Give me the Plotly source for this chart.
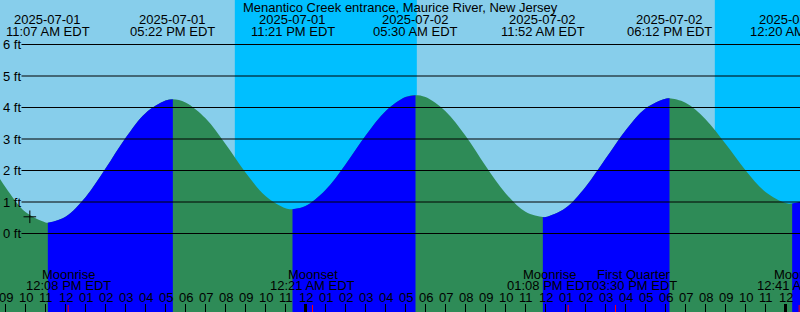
import plotly.graph_objects as go
import pandas as pd

# ---------------- data ----------------
title_text = "Menantico Creek entrance, Maurice River, New Jersey"

extreme_times = ["2025-07-01 11:07", "2025-07-01 17:22", "2025-07-01 23:21",
                 "2025-07-02 05:30", "2025-07-02 11:52", "2025-07-02 18:12",
                 "2025-07-03 00:20"]
extreme_heights = [0.34, 4.26, 0.77, 4.39, 0.52, 4.29, 0.95]
extreme_kinds = ["low", "high", "low", "high", "low", "high", "low"]

# hourly water level readings (ft), starting 2025-07-01 08:00
hourly_start = "2025-07-01 08:00"
hourly_heights = [2.50, 1.47, 0.68, 0.35, 0.53, 1.15, 2.06, 3.03, 3.82, 4.22,
                  4.16, 3.66, 2.84, 1.94, 1.19, 0.80,
                  0.87, 1.38, 2.19, 3.10, 3.88, 4.33, 4.33, 3.88, 3.10, 2.15,
                  1.28, 0.69, 0.52, 0.81, 1.48, 2.37, 3.27, 3.97, 4.28, 4.15,
                  3.63, 2.85, 2.01, 1.32,
                  0.97, 1.04]

night_starts = ["2025-07-01 20:28", "2025-07-02 20:28"]
night_ends = ["2025-07-02 05:34", "2025-07-03 05:35"]

moon_event_names = ["Moonrise", "Moonset", "Moonrise", "First Quarter", "Moonset"]
moon_event_times = ["2025-07-01 12:08", "2025-07-02 00:21", "2025-07-02 13:08",
                    "2025-07-02 15:30", "2025-07-03 00:41"]

height_ticks = [0, 1, 2, 3, 4, 5, 6]
mark_time = ["2025-07-01 10:13"]
mark_height = [0.53]

view_start = "2025-07-01 08:43:30"
view_hours = 40
y_range = [-2.4921, 7.4127]

# ---------------- colors / styling ----------------
DAY = "#87CEEB"
NIGHT = "#00BFFF"
RISE = "#0000FF"
FALL = "#2E8B57"
FONT = "Liberation Sans, Arial, sans-serif"
FS = 13
W, H = 800, 312
EVENT_LABEL_W = 85  # approx pixel width of an event label ("12:08 PM EDT")

t0 = pd.Timestamp(view_start)
t1 = t0 + pd.Timedelta(hours=view_hours)

def xpix(t):
    return (pd.Timestamp(t) - t0) / (t1 - t0) * W

hourly_times = pd.date_range(hourly_start, periods=len(hourly_heights), freq="h")
ext_t = pd.to_datetime(extreme_times)

pts = [(t, h) for t, h in zip(hourly_times, hourly_heights)]
pts += [(t, h) for t, h in zip(ext_t, extreme_heights)]
pts.sort(key=lambda p: p[0])
all_t = [p[0] for p in pts]
all_h = [p[1] for p in pts]

base = y_range[0] - 1

fig = go.Figure()

# full curve in "falling" color
fig.add_trace(go.Scatter(x=[all_t[0], all_t[-1]], y=[base, base], mode="lines",
                         line=dict(width=0), hoverinfo="skip", showlegend=False))
fig.add_trace(go.Scatter(x=all_t, y=all_h, mode="lines", fill="tonexty",
                         fillcolor=FALL, line=dict(width=0, shape="spline"),
                         hoverinfo="skip", showlegend=False))

# rising segments
for i, k in enumerate(extreme_kinds):
    if k != "low":
        continue
    ts = ext_t[i]
    te = ext_t[i + 1] if i + 1 < len(ext_t) else all_t[-1]
    seg = [(t, h) for t, h in pts if ts <= t <= te]
    sx = [p[0] for p in seg]
    sy = [p[1] for p in seg]
    fig.add_trace(go.Scatter(x=[sx[0], sx[-1]], y=[base, base], mode="lines",
                             line=dict(width=0), hoverinfo="skip", showlegend=False))
    fig.add_trace(go.Scatter(x=sx, y=sy, mode="lines", fill="tonexty",
                             fillcolor=RISE, line=dict(width=0, shape="spline"),
                             hoverinfo="skip", showlegend=False))

# mark
fig.add_trace(go.Scatter(x=pd.to_datetime(mark_time), y=mark_height, mode="markers",
                         marker=dict(symbol="cross-thin", size=9,
                                     line=dict(width=1, color="black")),
                         hoverinfo="skip", showlegend=False))

shapes = []
annotations = []

def ypaper(px):
    return 1 - px / H

txtfont = dict(family=FONT, size=FS, color="black")

# night bands
for s, e in zip(night_starts, night_ends):
    shapes.append(dict(type="rect", xref="x", yref="paper", x0=s, x1=e, y0=0, y1=1,
                       fillcolor=NIGHT, line=dict(width=0), layer="below"))

# height grid lines and labels
for v in height_ticks:
    shapes.append(dict(type="line", xref="paper", yref="y", x0=21.5 / W, x1=1,
                       y0=v, y1=v, line=dict(color="black", width=1)))
    annotations.append(dict(xref="paper", yref="y", x=0, y=v, xanchor="left",
                            yanchor="middle", xshift=1, text=f"{v} ft",
                            showarrow=False, font=txtfont))

# hour ticks & labels
hours = pd.date_range(t0.ceil("h"), t1, freq="h")
for t in hours:
    w = 3 if t.hour == 0 else 1
    shapes.append(dict(type="line", xref="x", yref="paper", x0=t, x1=t,
                       y0=0, y1=8 / H, line=dict(color="black", width=w)))
    annotations.append(dict(xref="x", yref="paper", x=t, y=ypaper(297.5),
                            xanchor="center", yanchor="middle", text=t.strftime("%I"),
                            showarrow=False, font=txtfont))

# moon events: labels pushed apart when they would overlap
ev_t = [pd.Timestamp(s) for s in moon_event_times]
ev_px = [xpix(t) for t in ev_t]
lab_px = list(ev_px)
for i in range(len(lab_px) - 1):
    gap = lab_px[i + 1] - lab_px[i]
    if gap < EVENT_LABEL_W:
        d = (EVENT_LABEL_W - gap) / 2
        lab_px[i] -= d
        lab_px[i + 1] += d

for name, t, p, lp in zip(moon_event_names, ev_t, ev_px, lab_px):
    shapes.append(dict(type="line", xref="x", yref="paper", x0=t, x1=t,
                       y0=0, y1=7 / H, line=dict(color="red", width=1)))
    annotations.append(dict(xref="x", yref="paper", x=t, y=ypaper(274),
                            xanchor="center", yanchor="middle", text=name,
                            xshift=lp - p, showarrow=False, font=txtfont))
    annotations.append(dict(xref="x", yref="paper", x=t, y=ypaper(285.5),
                            xanchor="center", yanchor="middle",
                            text=t.strftime("%I:%M %p EDT"),
                            xshift=lp - p, showarrow=False, font=txtfont))

# extreme labels
for t in ext_t:
    annotations.append(dict(xref="x", yref="paper", x=t, y=ypaper(19.5),
                            xanchor="center", yanchor="middle", text=t.strftime("%Y-%m-%d"),
                            showarrow=False, font=txtfont))
    annotations.append(dict(xref="x", yref="paper", x=t, y=ypaper(32),
                            xanchor="center", yanchor="middle",
                            text=t.strftime("%I:%M %p EDT"),
                            showarrow=False, font=txtfont))

# title
annotations.append(dict(xref="paper", yref="paper", x=0.5, y=ypaper(7.7),
                        xanchor="center", yanchor="middle", text=title_text,
                        showarrow=False, font=txtfont))

fig.update_layout(
    width=W, height=H,
    margin=dict(l=0, r=0, t=0, b=0, pad=0),
    paper_bgcolor=DAY, plot_bgcolor=DAY,
    showlegend=False,
    xaxis=dict(type="date", range=[t0, t1], visible=False, showgrid=False,
               zeroline=False, fixedrange=True),
    yaxis=dict(range=y_range, visible=False, showgrid=False, zeroline=False,
               fixedrange=True),
    shapes=shapes,
    annotations=annotations,
)

fig.write_html("out.html", config={"displayModeBar": False})
